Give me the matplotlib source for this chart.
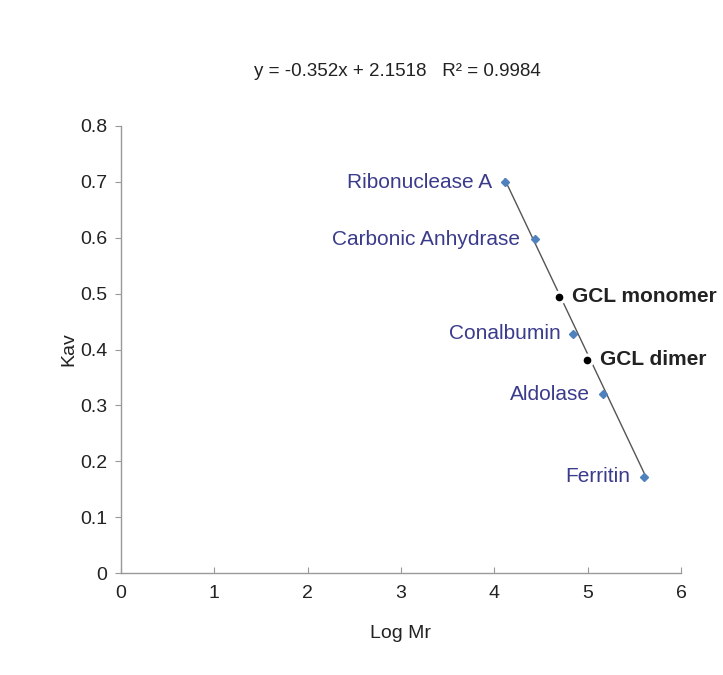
import matplotlib
matplotlib.use("Agg")
import matplotlib.pyplot as plt
import numpy as np

plt.rcParams['font.family'] = ['Liberation Sans', 'DejaVu Sans']

standards = ["Ribonuclease A", "Carbonic Anhydrase", "Conalbumin", "Aldolase", "Ferritin"]
std_logmr = [4.111, 4.436, 4.840, 5.161, 5.604]
std_kav = [0.699, 0.597, 0.428, 0.320, 0.172]

samples = ["GCL monomer", "GCL dimer"]
smp_logmr = [4.690, 4.996]
smp_kav = [0.494, 0.382]

slope = -0.352
intercept = 2.1518
r2 = 0.9984

xticks = [0, 1, 2, 3, 4, 5, 6]
yticks = [0, 0.1, 0.2, 0.3, 0.4, 0.5, 0.6, 0.7, 0.8]
ytick_labels = ["0", "0.1", "0.2", "0.3", "0.4", "0.5", "0.6", "0.7", "0.8"]

fig = plt.figure(figsize=(7.23, 6.75), dpi=100)
ax = fig.add_axes([121/723, 1-573/675, (681-121)/723, (573-126)/675])

tick_fs = 14
lab_fs = 15
# trendline
xl = np.array([min(std_logmr), max(std_logmr)])
ax.plot(xl, slope*xl + intercept, color='#555555', lw=1.0, zorder=2)

ax.plot(std_logmr, std_kav, linestyle='none', marker='D', markersize=4.3,
        color='#4F81BD', markeredgecolor='#4F81BD', zorder=3)
ax.plot(smp_logmr, smp_kav, linestyle='none', marker='o', markersize=9,
        color='white', markeredgecolor='white', zorder=4)
ax.plot(smp_logmr, smp_kav, linestyle='none', marker='o', markersize=4.5,
        color='black', markeredgecolor='black', zorder=5)

offsets = [-9.0, -10.5, -8.5, -9.0, -10]
for name, x, y, off in zip(standards, std_logmr, std_kav, offsets):
    ax.annotate(name, (x, y), xytext=(off, 0), textcoords='offset points',
                ha='right', va='center', color='#3B3B8C', fontsize=lab_fs)
for name, x, y in zip(samples, smp_logmr, smp_kav):
    ax.annotate(name, (x, y), xytext=(9.5, 0), textcoords='offset points',
                ha='left', va='center', color='#222222', fontsize=lab_fs,
                fontweight='bold')

ax.set_xlim(0, 6)
ax.set_ylim(0, 0.8)
ax.set_xticks(xticks)
ax.set_xticklabels([str(t) for t in xticks])
ax.set_yticks(yticks)
ax.set_yticklabels(ytick_labels)
ax.tick_params(axis='x', direction='in', length=4, color='#999999',
               labelsize=tick_fs, labelcolor='#222222', pad=9)
ax.tick_params(axis='y', direction='out', length=4, color='#999999',
               labelsize=tick_fs, labelcolor='#222222', pad=6)
for s in ['top', 'right']:
    ax.spines[s].set_visible(False)
for s in ['left', 'bottom']:
    ax.spines[s].set_color('#999999')
    ax.spines[s].set_linewidth(1.0)

ax.set_xlabel("Log Mr", fontsize=tick_fs, color='#222222', labelpad=16)
ax.set_ylabel("Kav", fontsize=tick_fs, color='#222222', labelpad=1.5)

fig.text(397/723, 1-71/675, f"y = {slope}x + {intercept}   R² = {r2}",
         ha='center', va='center', fontsize=13.5, color='#222222')

fig.savefig("out.png", dpi=100, facecolor='white')
